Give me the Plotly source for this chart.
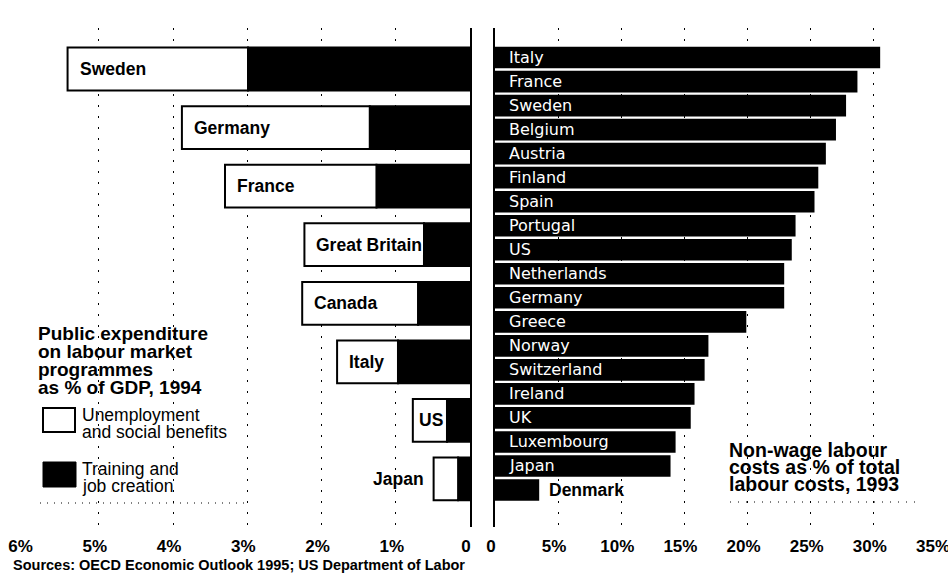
import plotly.graph_objects as go

W, H = 948, 580

# ---- Left panel data: public expenditure on labour market programmes, % of GDP, 1994
left_countries = ["Sweden", "Germany", "France", "Great Britain", "Canada", "Italy", "US", "Japan"]
training = [2.99, 1.35, 1.26, 0.62, 0.70, 0.97, 0.31, 0.16]          # Training and job creation
unemployment = [2.43, 2.53, 2.04, 1.61, 1.56, 0.82, 0.46, 0.33]      # Unemployment and social benefits
left_ticks = [6, 5, 4, 3, 2, 1, 0]
left_ticktext = ["6%", "5%", "4%", "3%", "2%", "1%", "0"]

# ---- Right panel data: non-wage labour costs as % of total labour costs, 1993
right_countries = ["Italy", "France", "Sweden", "Belgium", "Austria", "Finland", "Spain",
                   "Portugal", "US", "Netherlands", "Germany", "Greece", "Norway",
                   "Switzerland", "Ireland", "UK", "Luxembourg", "Japan", "Denmark"]
nonwage = [30.5, 28.7, 27.8, 27.0, 26.2, 25.6, 25.3, 23.8, 23.5, 22.9, 22.9, 19.9,
           16.9, 16.6, 15.8, 15.5, 14.3, 13.9, 3.5]
right_ticks = [0, 5, 10, 15, 20, 25, 30, 35]
right_ticktext = ["0", "5%", "10%", "15%", "20%", "25%", "30%", "35%"]

totals = [t + u for t, u in zip(training, unemployment)]

def py(px):
    return 1 - px / H

def pxx(px):
    return px / W

BOLD = "Liberation Sans"
fig = go.Figure()

fig.add_trace(go.Bar(
    y=left_countries, x=training, orientation="h", width=0.73,
    marker=dict(color="black", line=dict(color="black", width=2)),
    xaxis="x", yaxis="y", hoverinfo="skip"))
fig.add_trace(go.Bar(
    y=left_countries, x=unemployment, base=training, orientation="h", width=0.73,
    marker=dict(color="white", line=dict(color="black", width=2)),
    xaxis="x", yaxis="y", hoverinfo="skip"))

fig.add_trace(go.Bar(
    y=right_countries, x=nonwage, orientation="h", width=0.9,
    marker=dict(color="black", line=dict(width=0)),
    xaxis="x2", yaxis="y2", hoverinfo="skip"))

annotations = []
for c, tot, u in zip(left_countries, totals, unemployment):
    f = dict(family=BOLD, size=17.5, color="black", weight="bold")
    if tot > 0.6:
        annotations.append(dict(x=tot, y=c, xref="x", yref="y", text=c, showarrow=False,
                                xanchor="left", xshift=10 if u > 0.6 else 4, font=f))
    else:
        annotations.append(dict(x=tot, y=c, xref="x", yref="y", text=c, showarrow=False,
                                xanchor="right", xshift=-8, font=f))

for c, v in zip(right_countries, nonwage):
    if v > 8:
        annotations.append(dict(x=0, y=c, xref="x2", yref="y2", text=c, showarrow=False,
                                xanchor="left", xshift=12,
                                font=dict(family="DejaVu Sans", size=16, color="white")))
    else:
        annotations.append(dict(x=v, y=c, xref="x2", yref="y2", text=c, showarrow=False,
                                xanchor="left", xshift=8,
                                font=dict(family=BOLD, size=17.5, color="black", weight="bold")))

def txt(x, y, s, size, bold=True):
    annotations.append(dict(x=pxx(x), y=py(y), xref="paper", yref="paper", text=s,
                            showarrow=False, xanchor="left", yanchor="middle",
                            font=dict(family=BOLD, size=size, color="black",
                                      weight="bold" if bold else "normal")))

for i, line in enumerate(["Public expenditure", "on labour market", "programmes",
                          "as % of GDP, 1994"]):
    txt(36, 333 + i * 18.2, line, 19)

txt(80, 415, "Unemployment", 17.5, bold=False)
txt(80, 432, "and social benefits", 17.5, bold=False)
txt(80, 469, "Training and", 17.5, bold=False)
txt(80, 486, "job creation", 17.5, bold=False)

for i, line in enumerate(["Non-wage labour", "costs as % of total", "labour costs, 1993"]):
    txt(727, 450 + i * 17, line, 19.5)

txt(11, 565, "Sources: OECD Economic Outlook 1995; US Department of Labor", 14.5)

shapes = [
    dict(type="rect", xref="paper", yref="paper", x0=pxx(43), x1=pxx(75),
         y0=py(432), y1=py(408), line=dict(color="black", width=2), fillcolor="white"),
    dict(type="rect", xref="paper", yref="paper", x0=pxx(43), x1=pxx(76),
         y0=py(487), y1=py(462), line=dict(color="black", width=1), fillcolor="black"),
    dict(type="line", xref="paper", yref="paper", x0=pxx(40), x1=pxx(245),
         y0=py(503), y1=py(503), line=dict(color="black", width=1, dash="1px,6px")),
    dict(type="line", xref="paper", yref="paper", x0=pxx(730), x1=pxx(915),
         y0=py(502), y1=py(502), line=dict(color="black", width=1, dash="1px,7px")),
]

ydom = [py(527), py(28)]
tickfont = dict(family=BOLD, size=17, color="black", weight="bold")
grid = dict(showgrid=True, gridcolor="black", gridwidth=1.3, griddash="2px,9px")

fig.update_layout(
    template="none",
    width=W, height=H, margin=dict(l=0, r=0, t=0, b=0, autoexpand=False),
    paper_bgcolor="white", plot_bgcolor="white", showlegend=False,
    barmode="overlay",
    xaxis=dict(domain=[pxx(24.5), pxx(470)], range=[6, 0], anchor="y", automargin=False,
               tickmode="array", tickvals=left_ticks, ticktext=left_ticktext, **grid,
               zeroline=False, showline=False, ticks="", tickfont=tickfont,
               ticklabelstandoff=7, ticklabelshift=4, ticklabeloverflow="allow"),
    yaxis=dict(domain=ydom, type="category", categoryarray=left_countries, automargin=False,
               range=[7.82, -0.7], anchor="x", side="right",
               showticklabels=False, ticks="", showgrid=False, zeroline=False,
               showline=True, linecolor="black", linewidth=2),
    xaxis2=dict(domain=[pxx(495), pxx(937)], range=[0, 35], anchor="y2", automargin=False,
                tickmode="array", tickvals=right_ticks, ticktext=right_ticktext, **grid,
                zeroline=False, showline=False, ticks="", tickfont=tickfont,
                ticklabelstandoff=7, ticklabelshift=-4, ticklabeloverflow="allow"),
    yaxis2=dict(domain=ydom, type="category", categoryarray=right_countries, automargin=False,
                range=[19.54, -1.23], anchor="x2", side="left",
                showticklabels=False, ticks="", showgrid=False, zeroline=False,
                showline=True, linecolor="black", linewidth=2),
    annotations=annotations, shapes=shapes,
)

fig.write_html("out.html")
